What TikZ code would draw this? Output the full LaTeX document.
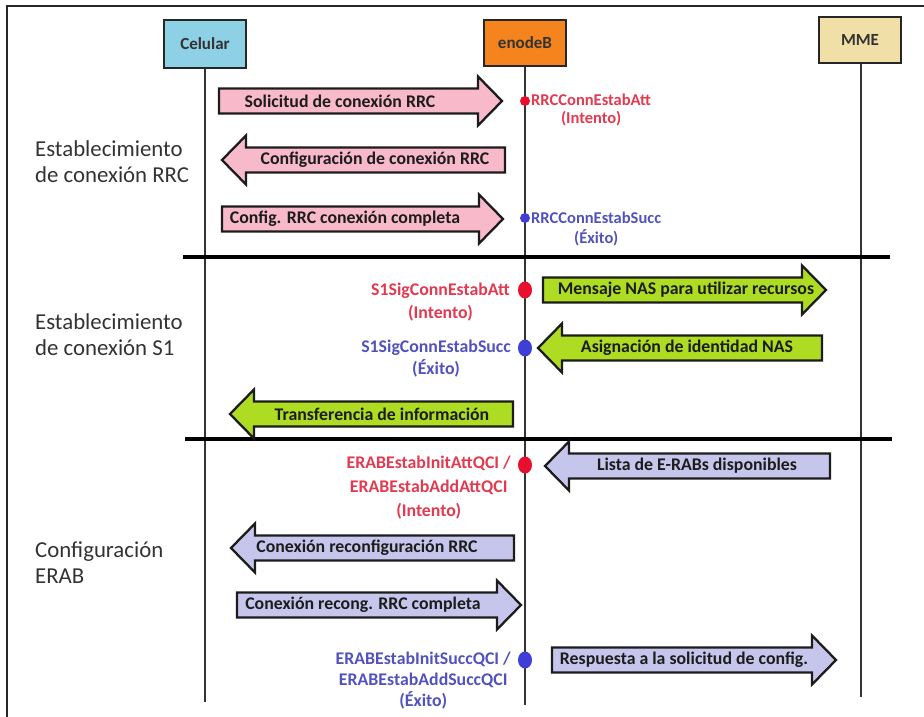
\documentclass[tikz,border=0pt]{standalone}
\usepackage{fontspec}
\setmainfont{Carlito}
\usetikzlibrary{shapes.geometric}

\definecolor{celfill}{HTML}{8ED0E6}
\definecolor{enbfill}{HTML}{F5841F}
\definecolor{mmefill}{HTML}{F0E0A8}
\definecolor{pinkarrow}{HTML}{F8B9CB}
\definecolor{greenarrow}{HTML}{ADDC22}
\definecolor{lavarrow}{HTML}{C6C6EC}
\definecolor{attred}{HTML}{E23A50}
\definecolor{succblue}{HTML}{5252BE}
\definecolor{dotred}{HTML}{E8102E}
\definecolor{dotblue}{HTML}{3F3FD6}
\definecolor{ink}{HTML}{1C1C1C}

% right-pointing block arrow: name, tail x, tip x, y, fill, label x, label
\newcommand{\blockR}[7]{%
  \draw[blockarrow, fill=#5] (#2,#4-12.5) -- ({#3-24},#4-12.5) -- ({#3-24},#4-24.5)
    -- (#3,#4) -- ({#3-24},#4+24.5) -- ({#3-24},#4+12.5) -- (#2,#4+12.5) -- cycle;
  \node[arrowtext] (#1) at (#6,#4) {#7};
}
% left-pointing block arrow: name, tail x, tip x, y, fill, label x, label
\newcommand{\blockL}[7]{%
  \draw[blockarrow, fill=#5] (#2,#4-12.5) -- ({#3+24},#4-12.5) -- ({#3+24},#4-24.5)
    -- (#3,#4) -- ({#3+24},#4+24.5) -- ({#3+24},#4+12.5) -- (#2,#4+12.5) -- cycle;
  \node[arrowtext] (#1) at (#6,#4) {#7};
}

\begin{document}
\begin{tikzpicture}[x=1pt,y=-1pt,
  frameline/.style={line width=1.4pt, draw=black!85},
  lifeline/.style={line width=2pt, draw=black!80},
  divider/.style={line width=3.4pt, draw=black},
  actor/.style={draw=black!85, line width=2.2pt, inner sep=0pt,
    minimum width=82pt, font=\fontsize{17}{20}\selectfont\bfseries, text=black!80},
  blockarrow/.style={draw=ink, line width=2.3pt, line join=miter},
  arrowtext/.style={inner sep=0pt, font=\fontsize{17.8}{20}\selectfont\bfseries, text=ink},
  section/.style={inner sep=0pt, anchor=west, align=left, text=black!80,
    font=\fontsize{22.8}{25.5}\selectfont},
  smalldot/.style={circle, inner sep=0pt, minimum size=10pt},
  bigdot/.style={ellipse, inner sep=0pt, minimum width=14pt, minimum height=17pt},
  attlabel/.style={inner sep=0pt, align=center, text=attred},
  succlabel/.style={inner sep=0pt, align=center, text=succblue}
]
\useasboundingbox (0,0) rectangle (924,717);

% outer frame (top and left edges)
\coordinate (fTL) at (7,6);
\coordinate (fTR) at (924,6);
\coordinate (fBL) at (7,717);
\draw[frameline] (fTR) -- (fTL) -- (fBL);

% participants
\node[actor, fill=celfill, minimum height=48pt] (cel) at (205,44) {Celular};
\node[actor, fill=enbfill, minimum height=46pt] (enb) at (525,43) {enodeB};
\node[actor, fill=mmefill, minimum height=46pt] (mme) at (860,40) {MME};

\coordinate (celEnd) at (205,702);
\coordinate (enbEnd) at (525,705);
\coordinate (mmeEnd) at (861,697);
\draw[lifeline] (cel.south) -- (celEnd);
\draw[lifeline] (enb.south) -- (enbEnd);
\draw[lifeline] (mme.south -| mmeEnd) -- (mmeEnd);

% section separators
\coordinate (sepAa) at (183,257);
\coordinate (sepAb) at (890,257);
\coordinate (sepBa) at (185,439);
\coordinate (sepBb) at (892,439);
\draw[divider] (sepAa) -- (sepAb);
\draw[divider] (sepBa) -- (sepBb);

% section titles
\node[section] (secRRC) at (35,161.5) {Establecimiento\\de conexión RRC};
\node[section] (secS1) at (35,334.5) {Establecimiento\\de conexión S1};
\node[section] (secERAB) at (35,562.5) {Configuración\\ERAB};

% RRC connection establishment
\blockR{m1}{219}{502}{101}{pinkarrow}{340}{Solicitud de conexión RRC}
\blockL{m2}{505}{222}{160}{pinkarrow}{375}{Configuración de conexión RRC}
\blockR{m3}{222}{503}{219}{pinkarrow}{345}{Config. RRC conexión completa}

\node[smalldot, fill=dotred] (p1) at (525,101) {};
\node[attlabel, anchor=west, font=\fontsize{16.5}{18.5}\selectfont\bfseries]
  (c1) at (531,110) {RRCConnEstabAtt\\(Intento)};
\node[smalldot, fill=dotblue] (p2) at (525,218) {};
\node[succlabel, anchor=west, font=\fontsize{16.5}{20}\selectfont\bfseries]
  (c2) at (531,228.5) {RRCConnEstabSucc\\(Éxito)};

% S1 connection establishment
\blockR{m4}{543}{826}{290}{greenarrow}{686}{Mensaje NAS para utilizar recursos}
\blockL{m5}{822}{538}{348}{greenarrow}{687}{Asignación de identidad NAS}
\blockL{m6}{513}{230}{414}{greenarrow}{382}{Transferencia de información}

\node[bigdot, fill=dotred] (p3) at (525,290) {};
\node[attlabel, anchor=east, font=\fontsize{17.8}{23}\selectfont\bfseries]
  (c3) at (510,302) {S1SigConnEstabAtt\\(Intento)};
\node[bigdot, fill=dotblue] (p4) at (525,348) {};
\node[succlabel, anchor=east, font=\fontsize{17.8}{22}\selectfont\bfseries]
  (c4) at (511,359) {S1SigConnEstabSucc\\(Éxito)};

% E-RAB setup
\blockL{m7}{830}{545}{466}{lavarrow}{697}{Lista de E-RABs disponibles}
\blockL{m8}{514}{231}{548}{lavarrow}{367}{Conexión reconfiguración RRC}
\blockR{m9}{237}{521}{605}{lavarrow}{363}{Conexión recong. RRC completa}
\blockR{m10}{552}{836}{660}{lavarrow}{684}{Respuesta a la solicitud de config.}

\node[bigdot, fill=dotred] (p5) at (525,465) {};
\node[attlabel, anchor=east, font=\fontsize{17.8}{24}\selectfont\bfseries]
  (c5) at (511,488) {ERABEstabInitAttQCI /\\ERABEstabAddAttQCI\\(Intento)};
\node[bigdot, fill=dotblue] (p6) at (525,660) {};
\node[succlabel, anchor=east, font=\fontsize{17.8}{21}\selectfont\bfseries]
  (c6) at (511,681) {ERABEstabInitSuccQCI /\\ERABEstabAddSuccQCI\\(Éxito)};
\end{tikzpicture}
\end{document}
